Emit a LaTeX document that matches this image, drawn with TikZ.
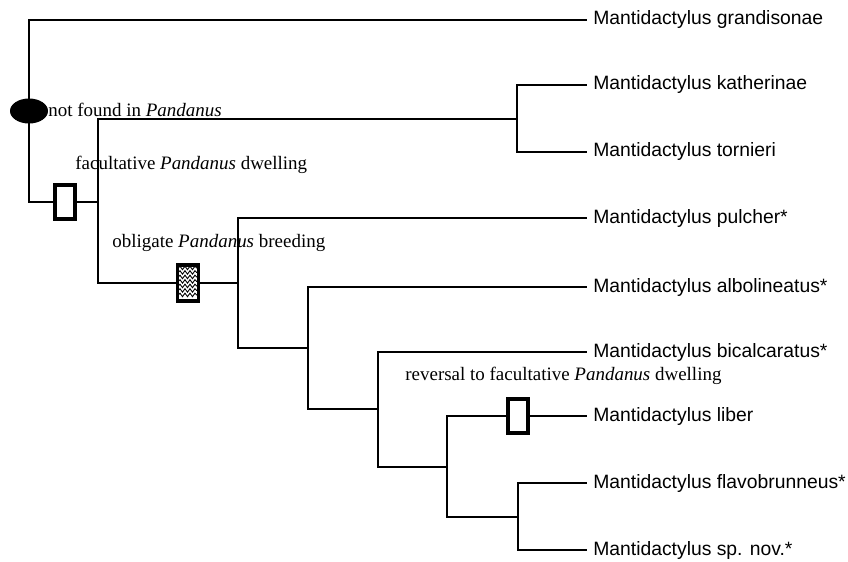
\documentclass[tikz,border=0pt]{standalone}
\usepackage{fontspec}
\setmainfont{Liberation Serif}
\newfontfamily\arialfont{Liberation Sans}
\usetikzlibrary{positioning,calc,shapes.geometric,decorations.pathmorphing}

\tikzset{
  branch/.style={line width=1.3pt},
  taxon/.style={anchor=west,inner sep=3.4pt,font=\arialfont\fontsize{11}{13}\selectfont},
  note/.style={anchor=west,inner sep=0pt,font=\fontsize{10.8}{13}\selectfont},
  facbox/.style={rectangle,draw,fill=white,line width=1.8pt,inner sep=0pt,minimum width=4mm,minimum height=6.8mm},
  oblbox/.style={rectangle,draw,fill=white,line width=1.8pt,inner sep=0pt,minimum width=4.2mm,minimum height=7.2mm},
  notfound/.style={ellipse,fill=black,inner sep=0pt,minimum width=7.6mm,minimum height=5mm}
}

\begin{document}
\begin{tikzpicture}[x=0.02cm,y=-0.02cm]
        \useasboundingbox (0,0) rectangle (848,561);

        % Taxa
        \node[taxon] (grandis) at (587,20) {Mantidactylus grandisonae};
        \node[taxon] (kath) at (587,85) {Mantidactylus katherinae};
        \node[taxon] (torn) at (587,152) {Mantidactylus tornieri};
        \node[taxon] (pulcher) at (587,218) {Mantidactylus pulcher*};
        \node[taxon] (albo) at (587,287) {Mantidactylus albolineatus*};
        \node[taxon] (bical) at (587,352) {Mantidactylus bicalcaratus*};
        \node[taxon] (liber) at (587,416) {Mantidactylus liber};
        \node[taxon] (flavo) at (587,483) {Mantidactylus flavobrunneus*};
        \node[taxon] (spnov) at (587,550) {Mantidactylus sp. nov.*};

        % Internal nodes
        \coordinate (root) at (29,111);
        \coordinate (n1) at (98,202);
        \coordinate (n2) at (517,119);
        \coordinate (n3) at (238,283);
        \coordinate (n4) at (308,348);
        \coordinate (n5) at (378,409);
        \coordinate (n6) at (447,467);
        \coordinate (n7) at (518,517);

        % Character boxes
        \node[facbox] (fac) at (65,202) {};
        \node[oblbox] (obl) at (188,283) {};
        \node[facbox] (rev) at (518,416) {};

        % Branches
        \draw[branch] (root) |- (grandis.west);
        \draw[branch] (root) |- (fac.west);
        \draw[branch] (fac.east) -- (n1);
        \draw[branch] (n1) |- (n2);
        \draw[branch] (n1) |- (obl.west);
        \draw[branch] (obl.east) -- (n3);
        \draw[branch] (n2) |- (kath.west);
        \draw[branch] (n2) |- (torn.west);
        \draw[branch] (n3) |- (pulcher.west);
        \draw[branch] (n3) |- (n4);
        \draw[branch] (n4) |- (albo.west);
        \draw[branch] (n4) |- (n5);
        \draw[branch] (n5) |- (bical.west);
        \draw[branch] (n5) |- (n6);
        \draw[branch] (n6) |- (rev.west);
        \draw[branch] (rev.east) -- (liber.west);
        \draw[branch] (n6) |- (n7);
        \draw[branch] (n7) |- (flavo.west);
        \draw[branch] (n7) |- (spnov.west);

        % Root marker
        \node[notfound] (nf) at (root) {};

        % Wavy fill of the obligate box
        \foreach \k in {1,...,7}
            \draw[line width=0.5pt,decorate,decoration={snake,segment length=1mm,amplitude=0.35mm}]
                ($(obl.north west)+(0.5mm,-\k*0.9mm)$) -- ($(obl.north east)+(-0.5mm,-\k*0.9mm)$);

        % Annotations
        \node[note] (nfnote) at (48,110) {not found in \textit{Pandanus}};
        \node[note] (facnote) at (75,165) {facultative \textit{Pandanus} dwelling};
        \node[note] (oblnote) at (112,243) {obligate \textit{Pandanus} breeding};
        \node[note] (revnote) at (405,376) {reversal to facultative \textit{Pandanus} dwelling};
\end{tikzpicture}
\end{document}
